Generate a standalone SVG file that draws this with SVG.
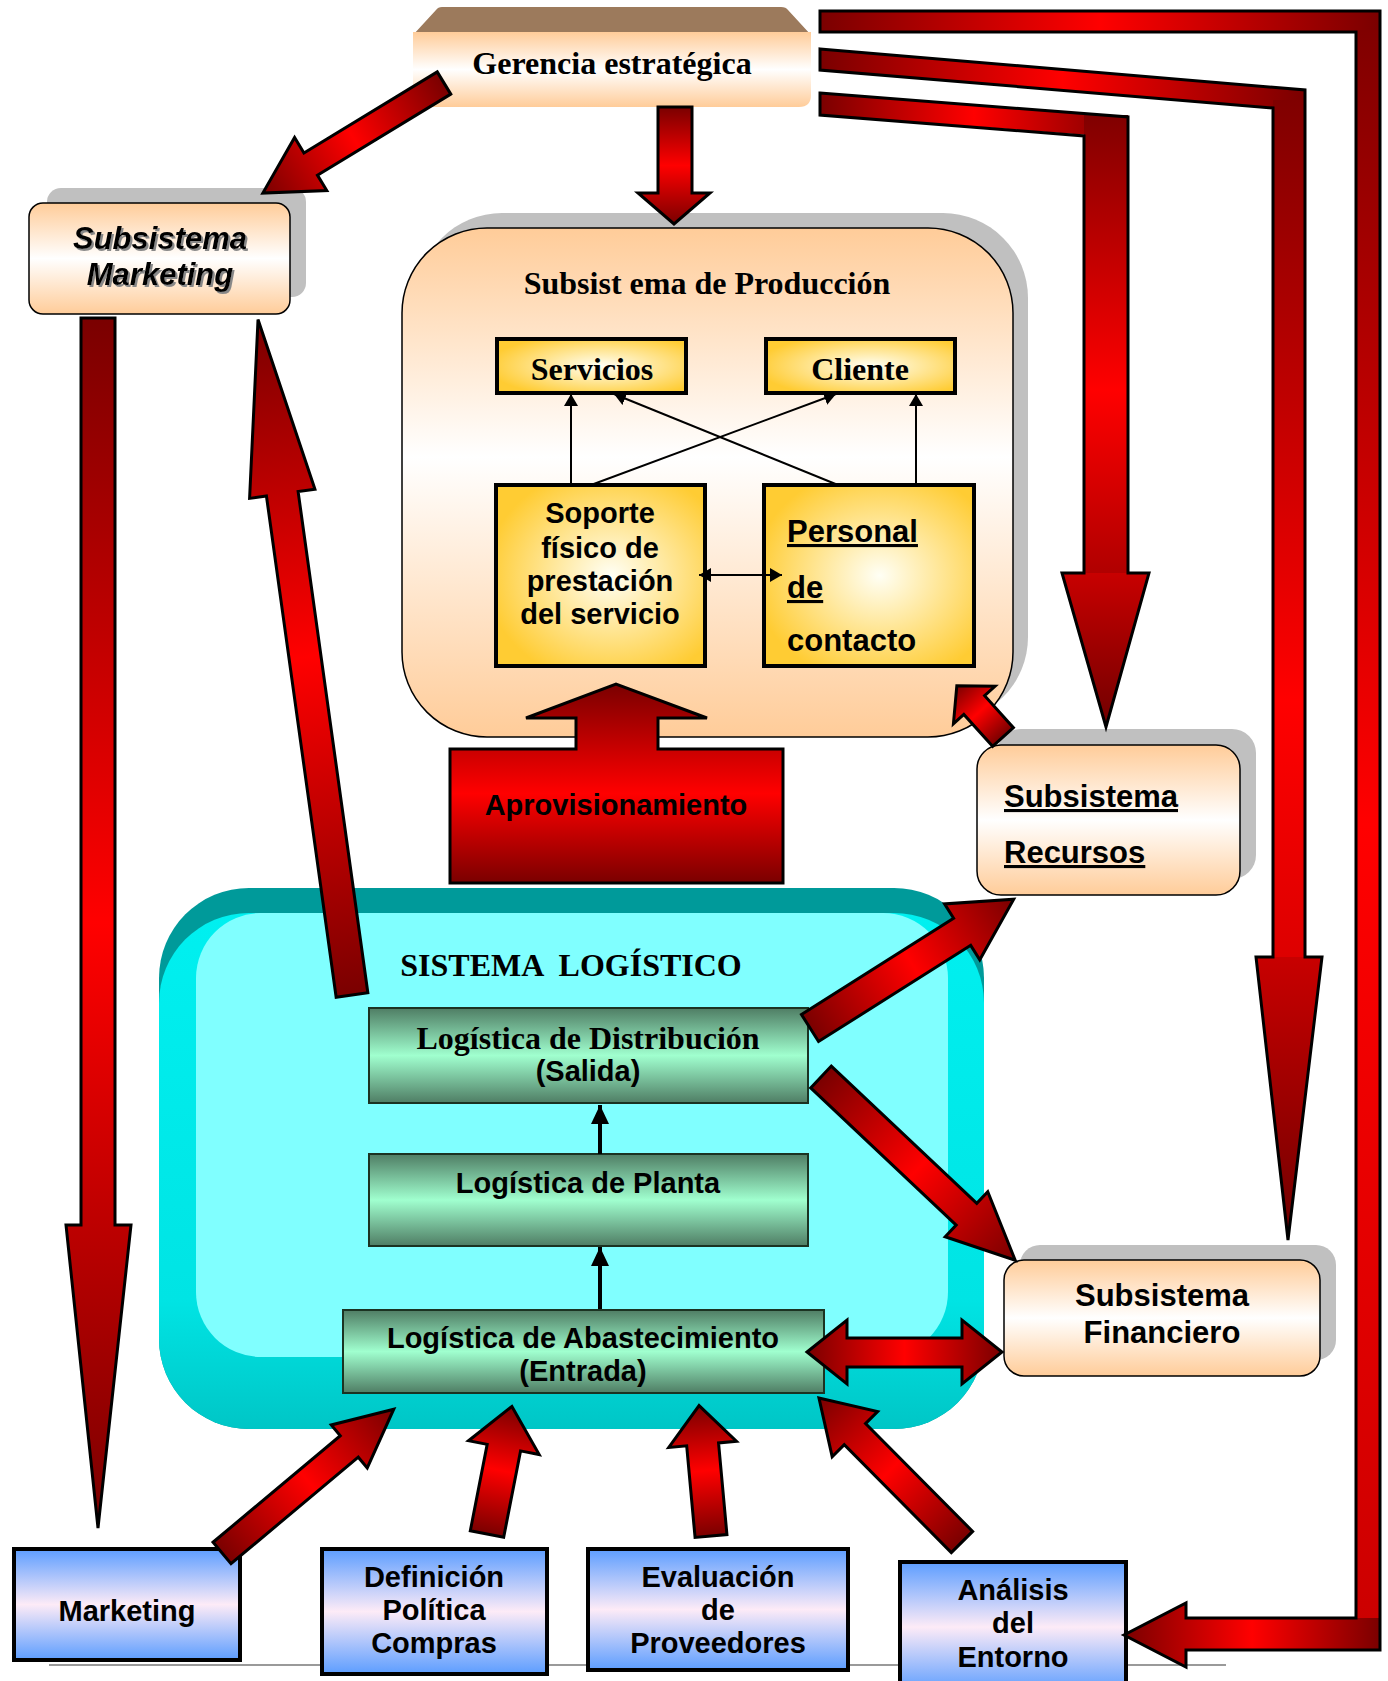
<svg xmlns="http://www.w3.org/2000/svg" width="1388" height="1681" viewBox="0 0 1388 1681">
<defs>
<style>
.serif{font-family:"Liberation Serif","Times New Roman",serif;font-weight:bold;font-size:32px;fill:#000}
.sans{font-family:"Liberation Sans",Arial,sans-serif;font-weight:bold;font-size:29px;fill:#000}
.s31{font-size:31px}
.mid{text-anchor:middle}
.ul{text-decoration:underline}
.red{stroke:#000;stroke-width:3;stroke-linejoin:miter}
.thin{stroke:#000;stroke-width:2;fill:none}
.thick{stroke:#000;stroke-width:4;fill:none}
.shadow{fill:#C0C0C0}
.gold{fill:url(#gGold);stroke:#000;stroke-width:4}
.green{fill:url(#gGreen);stroke:#1b3322;stroke-width:2}
.blue{fill:url(#gBlue);stroke:#000;stroke-width:4}
.peach{fill:url(#gPeach);stroke:#000;stroke-width:1.5}
</style>
<linearGradient id="gLenX" x1="0" y1="0" x2="1" y2="0"><stop offset="0" stop-color="#7a0000"/><stop offset="0.5" stop-color="#ff0000"/><stop offset="1" stop-color="#7a0000"/></linearGradient>
<linearGradient id="gLenY" x1="0" y1="0" x2="0" y2="1"><stop offset="0" stop-color="#7a0000"/><stop offset="0.5" stop-color="#ff0000"/><stop offset="1" stop-color="#7a0000"/></linearGradient>
<linearGradient id="gBarA" x1="0" y1="0" x2="0" y2="1"><stop offset="0" stop-color="#800000"/><stop offset="0.5" stop-color="#ff0000"/><stop offset="1" stop-color="#cc0000"/></linearGradient>
<linearGradient id="gBarB" x1="0" y1="0" x2="0" y2="1"><stop offset="0" stop-color="#800000"/><stop offset="0.7" stop-color="#ff0000"/><stop offset="1" stop-color="#dd0000"/></linearGradient>
<linearGradient id="gBarC" x1="0" y1="0" x2="0" y2="1"><stop offset="0" stop-color="#800000"/><stop offset="0.6" stop-color="#ff0000"/><stop offset="1" stop-color="#b00000"/></linearGradient>
<linearGradient id="gHead" x1="0" y1="0" x2="0" y2="1"><stop offset="0" stop-color="#c80000"/><stop offset="1" stop-color="#700000"/></linearGradient>
<linearGradient id="gPeach" x1="0" y1="0" x2="0" y2="1"><stop offset="0" stop-color="#FFCC99"/><stop offset="0.5" stop-color="#FFFFFF"/><stop offset="1" stop-color="#FFCC99"/></linearGradient>
<linearGradient id="gProd" x1="0" y1="0" x2="0" y2="1"><stop offset="0" stop-color="#FFCC99"/><stop offset="0.45" stop-color="#FFFFFF"/><stop offset="1" stop-color="#FFCC99"/></linearGradient>
<radialGradient id="gGold" cx="0.55" cy="0.5" r="0.6"><stop offset="0" stop-color="#FFFFF5"/><stop offset="1" stop-color="#FFCC33"/></radialGradient>
<linearGradient id="gGreen" x1="0" y1="0" x2="0" y2="1"><stop offset="0" stop-color="#4F7D64"/><stop offset="0.5" stop-color="#A0FFCF"/><stop offset="1" stop-color="#4F7D64"/></linearGradient>
<linearGradient id="gBlue" x1="0" y1="0" x2="0" y2="1"><stop offset="0" stop-color="#5C9DFF"/><stop offset="0.5" stop-color="#FDEBF7"/><stop offset="1" stop-color="#5C9DFF"/></linearGradient>
<linearGradient id="gApro" x1="0" y1="0" x2="0" y2="1"><stop offset="0" stop-color="#7a0000"/><stop offset="0.55" stop-color="#ff0000"/><stop offset="1" stop-color="#7a0000"/></linearGradient>
<linearGradient id="gCyan" x1="0" y1="0" x2="0" y2="1"><stop offset="0" stop-color="#00F0F0"/><stop offset="0.75" stop-color="#00E4E4"/><stop offset="1" stop-color="#00C6C6"/></linearGradient>
<filter id="ts" x="-10%" y="-20%" width="130%" height="150%"><feDropShadow dx="2" dy="2" stdDeviation="0.6" flood-color="#888"/></filter>
<marker id="ah" viewBox="0 0 12 14" markerWidth="12" markerHeight="14" refX="12" refY="7" markerUnits="userSpaceOnUse" orient="auto-start-reverse"><path d="M0,0 L12,7 L0,14 Z" fill="#000"/></marker>
<marker id="ah2" viewBox="0 0 19 18" markerWidth="19" markerHeight="18" refX="19" refY="9" markerUnits="userSpaceOnUse" orient="auto"><path d="M0,0 L19,9 L0,18 Z" fill="#000"/></marker>
</defs>
<rect width="1388" height="1681" fill="#fff"/>
<line x1="49" y1="1665" x2="1226" y2="1665" stroke="#9a9a9a" stroke-width="2"/>

<g id="gerencia">
<path d="M442,7 H781 Q786,7 788,10 L811,35 H413 L436,10 Q438,7 442,7 Z" fill="#9C7A5C"/>
<path d="M413,32 H811 V95 Q811,107 799,107 H425 Q413,107 413,95 Z" fill="url(#gPeach)"/>
<text class="serif mid" x="612" y="74">Gerencia estratégica</text>
</g>

<g id="subsistema-marketing">
<rect class="shadow" x="47" y="188" width="259" height="109" rx="14"/>
<rect class="peach" x="29" y="203" width="261" height="111" rx="14"/>
<text class="sans s31 mid" x="160" y="249" font-style="italic" filter="url(#ts)">Subsistema</text>
<text class="sans s31 mid" x="160" y="285" font-style="italic" filter="url(#ts)">Marketing</text>
</g>

<g id="subsistema-produccion">
<rect class="shadow" x="417" y="213" width="611" height="509" rx="85"/>
<rect x="402" y="228" width="611" height="509" rx="85" fill="url(#gProd)" stroke="#000" stroke-width="1.5"/>
<text class="serif mid" x="707" y="294">Subsist ema de Producción</text>
</g>

<g id="servicios">
<rect class="gold" x="497" y="339" width="189" height="54"/>
<text class="serif mid" x="592" y="380">Servicios</text>
</g>
<g id="cliente">
<rect class="gold" x="766" y="339" width="189" height="54"/>
<text class="serif mid" x="860" y="380">Cliente</text>
</g>
<g id="soporte">
<rect class="gold" x="496" y="485" width="209" height="181"/>
<text class="sans mid" x="600" y="523">Soporte</text>
<text class="sans mid" x="600" y="558">físico de</text>
<text class="sans mid" x="600" y="591">prestación</text>
<text class="sans mid" x="600" y="624">del servicio</text>
</g>
<g id="personal">
<rect class="gold" x="764" y="485" width="210" height="181"/>
<text class="sans s31 ul" x="787" y="542">Personal</text>
<text class="sans s31 ul" x="787" y="598">de</text>
<text class="sans s31" x="787" y="651">contacto</text>
</g>

<g id="aprovisionamiento">
<path d="M450,749 H576 V718 H526 L616,684 L707,718 H658 V749 H783 V883 H450 Z" fill="url(#gApro)" stroke="#000" stroke-width="3"/>
<text class="sans mid" x="616" y="815" fill="#150000">Aprovisionamiento</text>
</g>

<g id="subsistema-recursos">
<rect class="shadow" x="997" y="729" width="259" height="150" rx="24"/>
<rect class="peach" x="977" y="745" width="263" height="150" rx="24"/>
<text class="sans s31 ul" x="1004" y="807">Subsistema</text>
<text class="sans s31 ul" x="1004" y="863">Recursos</text>
</g>

<g id="sistema-logistico">
<rect x="159" y="888" width="825" height="541" rx="90" fill="#009A9A"/>
<rect x="159" y="913" width="825" height="516" rx="90" fill="url(#gCyan)"/>
<rect x="196" y="913" width="752" height="444" rx="65" fill="#80FFFF"/>
<text class="serif mid" x="571" y="976" xml:space="preserve">SISTEMA  LOGÍSTICO</text>
</g>

<g id="logistica-distribucion">
<rect class="green" x="369" y="1008" width="439" height="95"/>
<text class="serif mid" x="588" y="1049">Logística de Distribución</text>
<text class="sans mid" x="588" y="1081">(Salida)</text>
</g>
<g id="logistica-planta">
<rect class="green" x="369" y="1154" width="439" height="92"/>
<text class="sans mid" x="588" y="1193">Logística de Planta</text>
</g>
<g id="logistica-abastecimiento">
<rect class="green" x="343" y="1310" width="481" height="83"/>
<text class="sans mid" x="583" y="1348">Logística de Abastecimiento</text>
<text class="sans mid" x="583" y="1381">(Entrada)</text>
</g>

<g id="subsistema-financiero">
<rect class="shadow" x="1020" y="1245" width="316" height="115" rx="20"/>
<rect class="peach" x="1004" y="1260" width="316" height="116" rx="20"/>
<text class="sans s31 mid" x="1162" y="1306">Subsistema</text>
<text class="sans s31 mid" x="1162" y="1343">Financiero</text>
</g>

<g id="marketing">
<rect class="blue" x="14" y="1549" width="226" height="111"/>
<text class="sans mid" x="127" y="1621">Marketing</text>
</g>
<g id="definicion-politica-compras">
<rect class="blue" x="322" y="1549" width="225" height="125"/>
<text class="sans mid" x="434" y="1587">Definición</text>
<text class="sans mid" x="434" y="1620">Política</text>
<text class="sans mid" x="434" y="1653">Compras</text>
</g>
<g id="evaluacion-proveedores">
<rect class="blue" x="588" y="1549" width="260" height="121"/>
<text class="sans mid" x="718" y="1587">Evaluación</text>
<text class="sans mid" x="718" y="1620">de</text>
<text class="sans mid" x="718" y="1653">Proveedores</text>
</g>
<g id="analisis-entorno">
<rect class="blue" x="900" y="1562" width="226" height="130"/>
<text class="sans mid" x="1013" y="1600">Análisis</text>
<text class="sans mid" x="1013" y="1633">del</text>
<text class="sans mid" x="1013" y="1667">Entorno</text>
</g>

<g id="connectors">
<!-- Bar A: Gerencia to Analisis del Entorno -->
<rect x="820" y="11" width="560" height="21" fill="url(#gLenX)"/>
<rect x="1356" y="30" width="24" height="1590" fill="url(#gBarA)"/>
<path d="M1380,1618 V1650 H1186 V1667 L1124,1635 L1186,1603 V1618 Z" fill="url(#gLenX)"/>
<path d="M820,11 H1380 V1650 H1186 V1667 L1124,1635 L1186,1603 V1618 H1356 V32 H820 Z" fill="none" class="red"/>
<!-- Bar B: Gerencia to Financiero -->
<path d="M820,49 L1305,90 V110 L820,70 Z" fill="url(#gLenX)"/>
<rect x="1273" y="100" width="32" height="857" fill="url(#gBarB)"/>
<path d="M1256,957 H1322 L1288,1240 Z" fill="url(#gHead)"/>
<path d="M820,49 L1305,90 V957 H1322 L1288,1240 L1256,957 H1273 V108 L820,70 Z" fill="none" class="red"/>
<!-- Bar C: Gerencia to Recursos -->
<path d="M820,93 L1128,117 V138 L820,115 Z" fill="url(#gLenX)"/>
<rect x="1084" y="115" width="44" height="458" fill="url(#gBarC)"/>
<path d="M1062,573 H1149 L1106,727 Z" fill="url(#gHead)"/>
<path d="M820,93 L1128,117 V573 H1149 L1106,727 L1062,573 H1084 V136 L820,115 Z" fill="none" class="red"/>

<!-- Gerencia to Subsistema Marketing -->
<path transform="translate(444,83) rotate(148.71)" d="M0,-13 H156 V-31 L212,0 L156,31 V13 H0 Z" fill="url(#gLenX)" class="red"/>
<!-- Gerencia to Produccion -->
<path d="M658,107 H692 V193 H710 L674,224 L638,193 H658 Z" fill="url(#gLenY)" class="red"/>
<!-- Sistema logistico to Subsistema Marketing -->
<path transform="translate(352,995) rotate(-97.92)" d="M0,-16 H506 V-33 L682,0 L506,33 V16 H0 Z" fill="url(#gLenX)" class="red"/>
<!-- Subsistema Marketing to Marketing -->
<path d="M81,318 H115 V1225 H131 L98,1528 L66,1225 H81 Z" fill="url(#gLenY)" class="red"/>
<!-- Recursos to Produccion -->
<path transform="translate(1003,737) rotate(-132)" d="M0,-14 H43 V-28 L69,0 L43,28 V14 H0 Z" fill="url(#gLenX)" class="red"/>
<!-- Distribucion to Recursos -->
<path transform="translate(810,1028) rotate(-32.3)" d="M0,-16 H180 V-33 L241,0 L180,33 V16 H0 Z" fill="url(#gLenX)" class="red"/>
<!-- Distribucion to Financiero -->
<path transform="translate(821,1077) rotate(43.33)" d="M0,-15 H200 V-31 L267,0 L200,31 V15 H0 Z" fill="url(#gLenX)" class="red"/>
<!-- Abastecimiento <-> Financiero -->
<path d="M807,1352 L847,1320 V1338 H962 V1320 L1002,1352 L962,1384 V1367 H847 V1384 Z" fill="url(#gLenX)" class="red"/>
<!-- bottom inputs -->
<path transform="translate(222,1553) rotate(-39.94)" d="M0,-14 H166 V-28 L224,0 L166,28 V14 H0 Z" fill="url(#gLenX)" class="red"/>
<path transform="translate(487,1534) rotate(-78.95)" d="M0,-17 H88 V-36 L130,0 L88,36 V17 H0 Z" fill="url(#gLenX)" class="red"/>
<path transform="translate(711,1536) rotate(-95.23)" d="M0,-16 H92 V-34 L131,0 L92,34 V16 H0 Z" fill="url(#gLenX)" class="red"/>
<path transform="translate(962,1542) rotate(-134.8)" d="M0,-15 H152 V-32 L203,0 L152,32 V15 H0 Z" fill="url(#gLenX)" class="red"/>

<!-- production internal -->
<line class="thin" x1="571" y1="485" x2="571" y2="394" marker-end="url(#ah)"/>
<line class="thin" x1="916" y1="485" x2="916" y2="394" marker-end="url(#ah)"/>
<line class="thin" x1="591" y1="485" x2="836" y2="394" marker-end="url(#ah)"/>
<line class="thin" x1="838" y1="485" x2="614" y2="394" marker-end="url(#ah)"/>
<line class="thin" x1="699" y1="575" x2="782" y2="575" marker-start="url(#ah)" marker-end="url(#ah)"/>
<!-- logistics internal -->
<line class="thick" x1="600" y1="1154" x2="600" y2="1105" marker-end="url(#ah2)"/>
<line class="thick" x1="600" y1="1309" x2="600" y2="1247" marker-end="url(#ah2)"/>
</g>
</svg>
